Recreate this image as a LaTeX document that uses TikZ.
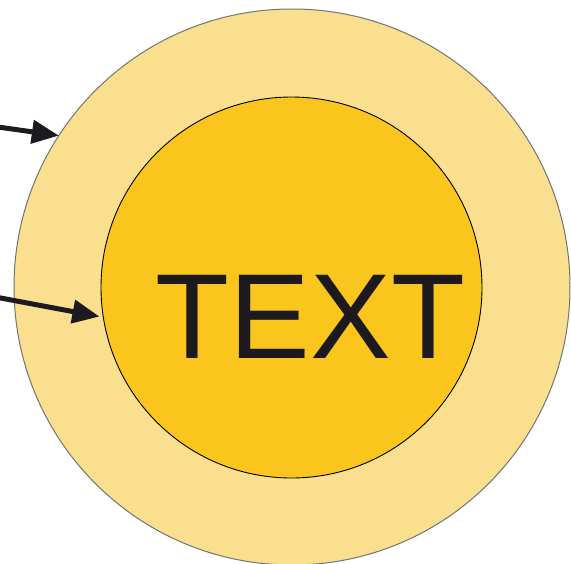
\documentclass[tikz,border=0pt]{standalone}
\usepackage{fontspec}
\setmainfont{Liberation Sans}
\usetikzlibrary{arrows.meta}
\definecolor{outerfill}{HTML}{FAE08E}
\definecolor{innerfill}{HTML}{FAC51C}
\definecolor{ink}{HTML}{1C1A1E}
\tikzset{
  ring/.style={circle, inner sep=0pt, outer sep=0pt},
  pointer/.style={draw=ink, line width=5pt, -{Triangle[length=27pt,width=23pt]}},
}
\begin{document}
\begin{tikzpicture}[x=1pt,y=-1pt]
\useasboundingbox (0,0) rectangle (571,563);
\node[ring, fill=outerfill, draw=gray!90!black, line width=1pt, minimum size=556pt] (outer) at (292,287) {};
\node[ring, fill=innerfill, draw=black, line width=0.9pt, minimum size=381pt] (inner) at (291.5,287.5) {};
\node[inner sep=0pt, text=ink, font=\fontsize{121}{121}\selectfont] (label) at (310.5,316.5) {TEXT};
\coordinate (s1) at (-2,127);
\coordinate (s2) at (-2,297.5);
\draw[pointer] (s1) -- (outer.147.6);
\draw[pointer, shorten >=4pt] (s2) -- (inner.189);
\end{tikzpicture}
\end{document}
